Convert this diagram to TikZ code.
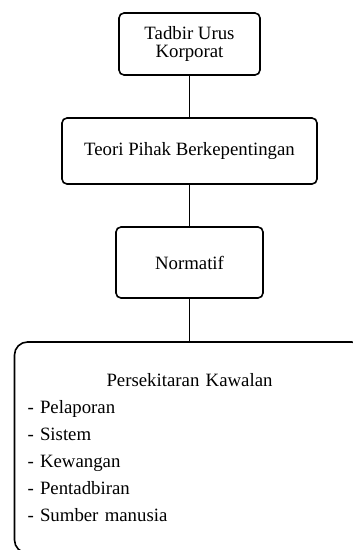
\documentclass[tikz,border=0pt]{standalone}
\usepackage{fontspec}
\setmainfont{Liberation Serif}
\begin{document}
\begin{tikzpicture}[node distance=108pt, every node/.style={font=\fontsize{18.8}{18.5}\selectfont}, line width=1.6pt]
    \tikzstyle{box} = [rectangle, draw, text centered, align=center, rounded corners=5pt, inner sep=0pt]
    \tikzstyle{bigbox} = [rectangle, draw, rounded corners=13pt, inner xsep=13pt, inner ysep=0pt]
    \useasboundingbox (0pt,0pt) rectangle (353pt,-550pt);
    \node (tadbir) [box, minimum width=141pt, minimum height=62pt] at (189.5pt,-44pt) {Tadbir Urus\\Korporat};
    \node (teori) [box, below of=tadbir, node distance=107pt, minimum width=255pt, minimum height=66pt] {Teori Pihak Berkepentingan};
    \node (normatif) [box, below of=teori, node distance=111.5pt, minimum width=147pt, minimum height=71pt] {Normatif};
    % last box runs past the page edge
    \node (kawalan) [bigbox, below of=normatif, node distance=185pt, minimum width=350pt, minimum height=211pt, text width=324pt, align=left, font=\fontsize{18.8}{27}\selectfont] {\makebox[324pt]{Persekitaran Kawalan}\\- Pelaporan\\- Sistem\\- Kewangan\\- Pentadbiran\\- Sumber manusia};

    \draw (tadbir) -- (teori);
    \draw (teori) -- (normatif);
    \draw (normatif) -- (kawalan);

\end{tikzpicture}
\end{document}
